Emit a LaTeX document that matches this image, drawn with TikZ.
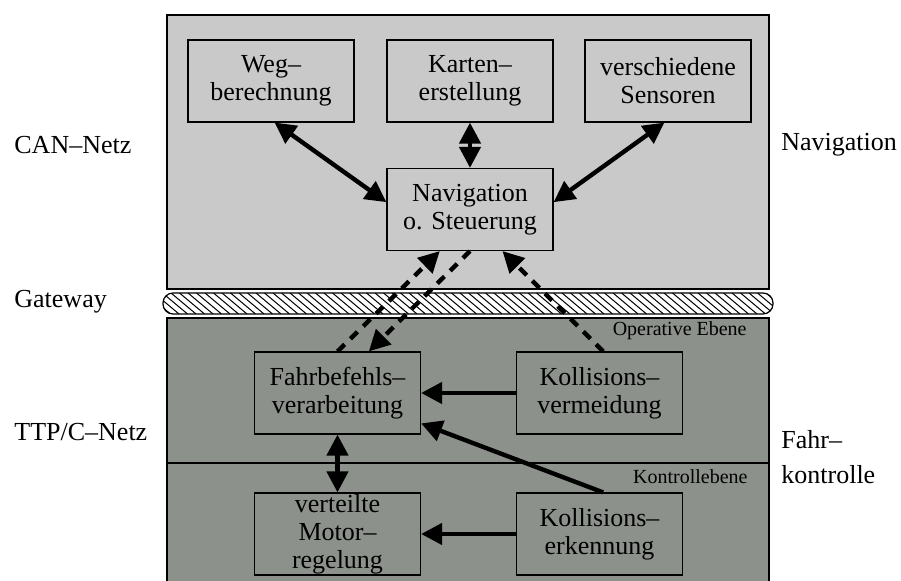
\documentclass[tikz,border=0pt]{standalone}
\usepackage{fontspec}
\setmainfont{Liberation Serif}
\usetikzlibrary{arrows.meta,calc}
\definecolor{navfill}{HTML}{C9C9C9}
\definecolor{ctrlfill}{HTML}{8C918B}

\begin{document}
\begin{tikzpicture}[x=0.5pt,y=-0.5pt,
  unit/.style={draw, line width=0.6pt, minimum width=83pt, minimum height=41pt,
    inner sep=0pt, align=center, font=\fontsize{13}{14}\selectfont},
  side/.style={inner sep=0pt, anchor=west, align=left,
    font=\fontsize{13}{17.5}\selectfont},
  layer/.style={inner sep=0pt, anchor=east, font=\fontsize{10}{12}\selectfont},
  tip/.tip={Triangle[length=10.5pt,width=10.5pt]},
  flow/.style={line width=2.2pt, -tip},
  duplex/.style={line width=2.2pt, tip-tip},
  gate/.style={flow, dash pattern=on 5pt off 4pt}
]
\useasboundingbox (0,0) rectangle (901,581);

% network regions
\draw[fill=navfill, line width=0.6pt] (167,15) rectangle (769,289);
\draw[fill=ctrlfill, line width=0.6pt] (167,600) -- (167,318) -- (769,318) -- (769,600);
\draw[line width=0.6pt] (167,463) -- (769,463);

% gateway bar with hatching
\begin{scope}
  \clip[rounded corners=5pt] (163,293) rectangle (773,314);
  \fill[white] (150,290) rectangle (790,320);
  \foreach \x in {120,128.5,...,790}
    \draw[line width=0.5pt] (\x,293) -- (\x+25,314);
\end{scope}
\draw[rounded corners=5pt, line width=0.6pt] (163,293) rectangle (773,314);

% navigation components
\node[unit] (weg) at (271,81) {Weg–\\berechnung};
\node[unit] (karte) at (470,81) {Karten–\\erstellung};
\node[unit] (sens) at (668,81) {verschiedene\\Sensoren};
\node[unit] (nav) at (470,209.5) {Navigation\\o. Steuerung};

% driving control components
\node[unit] (fahr) at (337.5,393) {Fahrbefehls–\\verarbeitung};
\node[unit] (kverm) at (599.5,393) {Kollisions–\\vermeidung};
\node[unit] (motor) at (337.5,534) {verteilte\\Motor–\\regelung};
\node[unit] (kerk) at (599.5,534) {Kollisions–\\erkennung};

% side labels
\node[side] (can) at (14,145) {CAN–Netz};
\node[side] (gw) at (14,302) {Gateway};
\node[side] (ttp) at (14,432) {TTP/C–Netz};
\node[side] (navlbl) at (781,145) {Navigation};
\node[side] (fklbl) at (781,457) {Fahr–\\kontrolle};
\node[layer] (oper) at (747,331) {Operative Ebene};
\node[layer] (kontr) at (748,477) {Kontrollebene};

% navigation links
\draw[duplex] (weg.275) -- (nav.175);
\draw[duplex] (karte.south) -- (nav.north);
\draw[duplex] (sens.265) -- (nav.5);

% links through the gateway
\draw[gate] (fahr.north) -- (nav.234);
\draw[gate] (nav.south) -- (fahr.53);
\draw[gate] (kverm.85) -- (nav.308);

% control links
\draw[flow] (kverm.west) -- (fahr.east);
\draw[flow] (kerk.west) -- (motor.east);
\draw[flow] (kerk.85) -- (fahr.340);
\draw[duplex] (fahr.south) -- (motor.north);
\end{tikzpicture}
\end{document}
